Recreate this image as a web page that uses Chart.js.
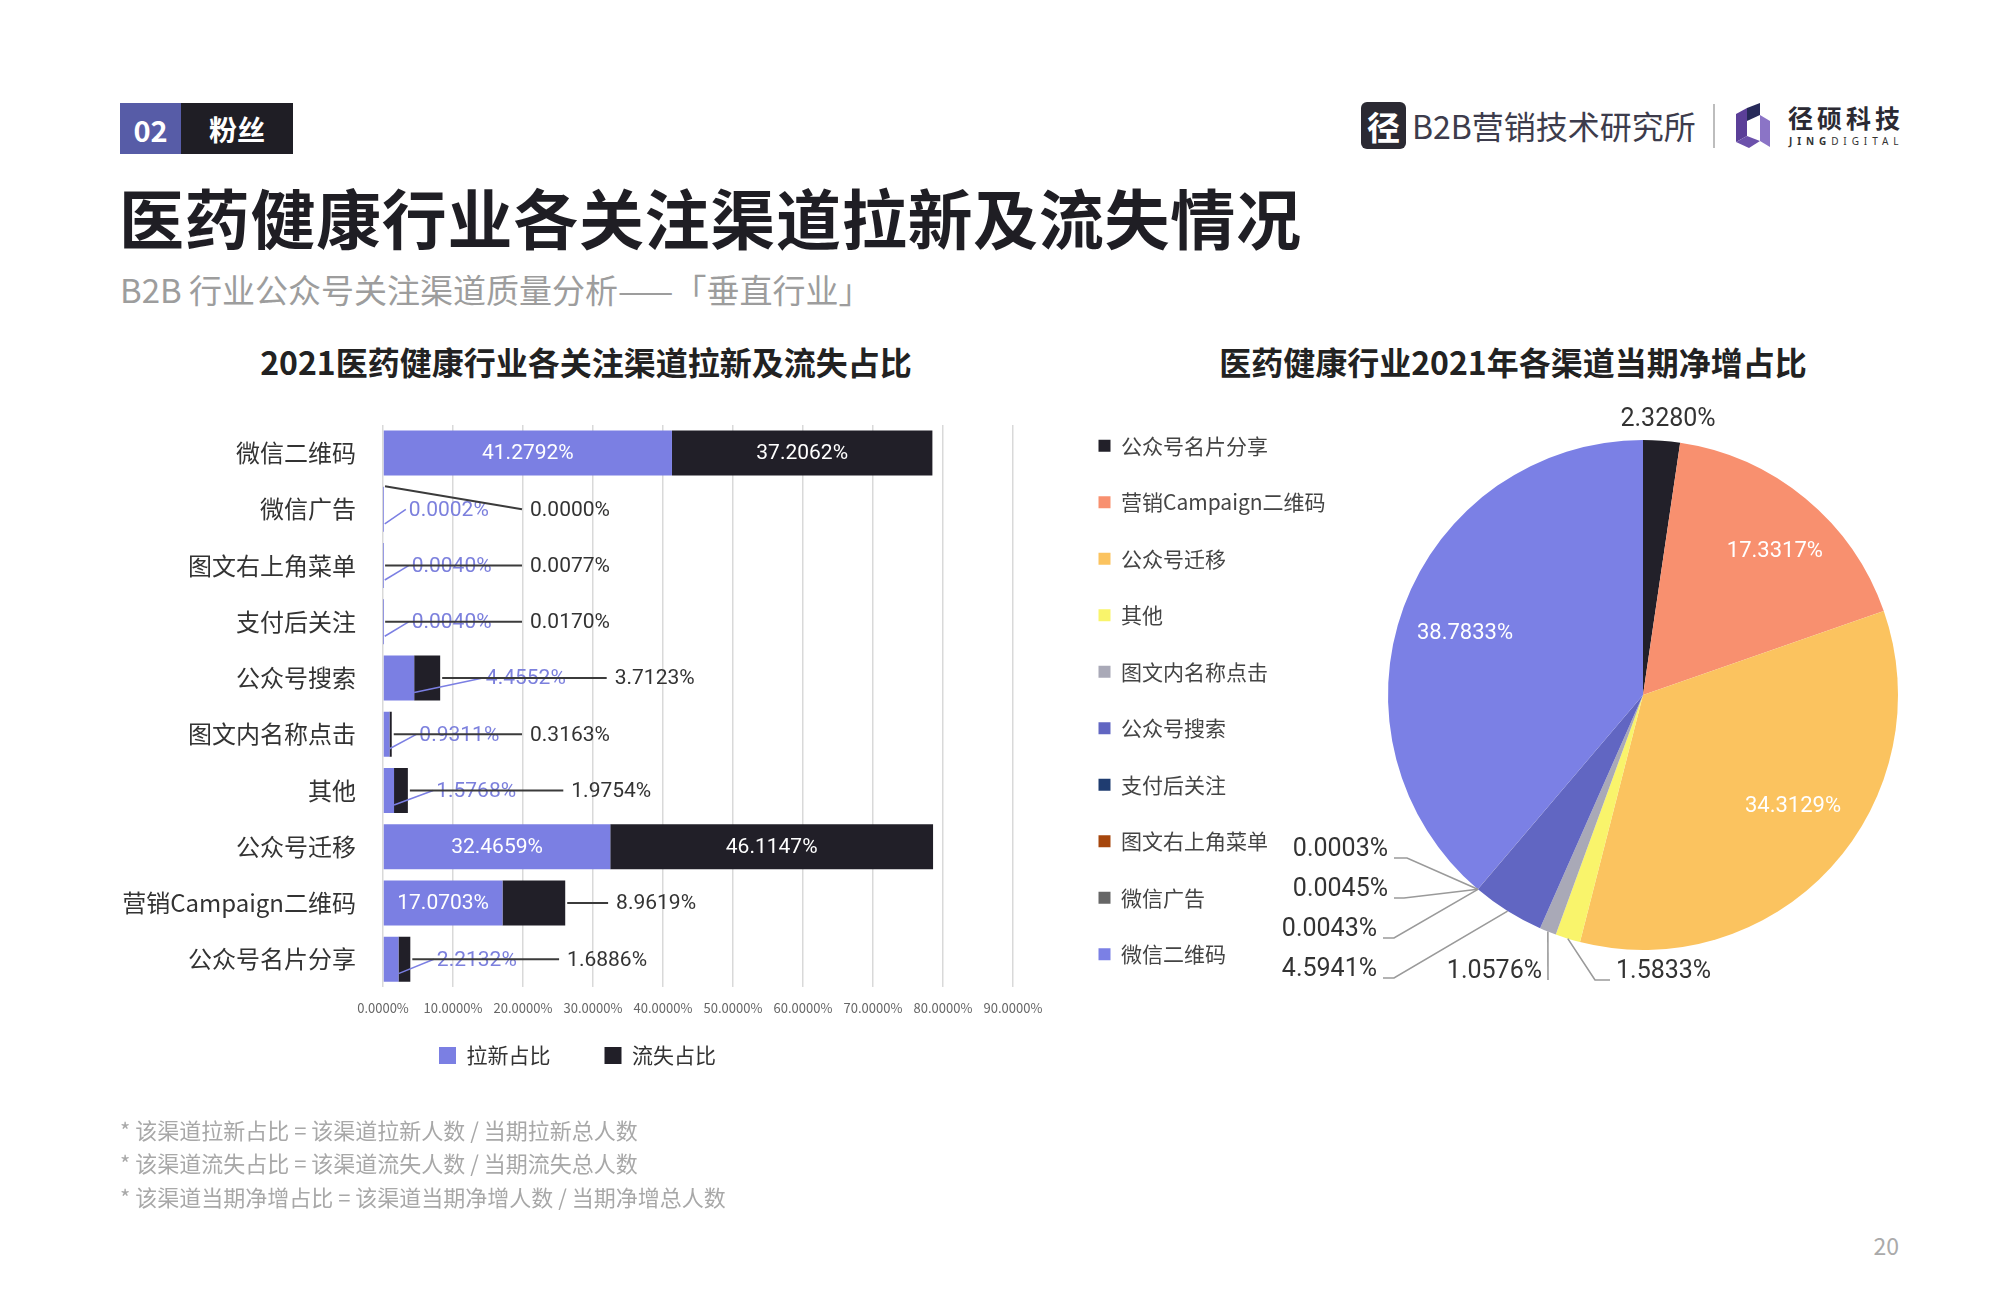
<!DOCTYPE html>
<html><head><meta charset="utf-8">
<script src="https://cdn.jsdelivr.net/npm/chart.js@4.4.1/dist/chart.umd.min.js"></script>
<style>
html,body{margin:0;padding:0;background:#fff;}
body{width:2015px;height:1307px;position:relative;overflow:hidden;font-family:"Noto Sans CJK SC","Noto Sans",sans-serif;}
.abs{position:absolute;white-space:nowrap;}
#tag{left:120px;top:103px;height:51px;display:flex;}
#tag .num{width:61px;background:#575ca7;color:#fff;font-weight:700;font-size:29px;display:flex;align-items:center;justify-content:center;}
#tag .txt{width:112px;background:#1f1e25;color:#fff;font-weight:700;font-size:28px;display:flex;align-items:center;justify-content:center;}
#title{left:119px;top:174px;font-weight:700;font-size:65px;line-height:84px;color:#1f1e24;letter-spacing:0.7px;}
#subtitle{left:120px;top:269px;font-size:33px;line-height:40px;color:#9d9d9d;}
.ctitle{top:341px;width:700px;text-align:center;font-weight:700;font-size:32px;line-height:40px;color:#222;}
#notes{left:120px;top:1112.5px;font-size:22px;line-height:33.5px;color:#a8a8a8;}
#page{left:1851px;top:1230px;width:48px;text-align:right;font-size:23px;line-height:30px;color:#aaa;}
#icon{left:1361px;top:102px;width:45px;height:47px;background:#2b2a33;border-radius:6px;color:#fff;font-weight:700;font-size:33px;display:flex;align-items:center;justify-content:center;}
#b2b{left:1412px;top:104px;font-size:32px;line-height:42px;color:#3d3c4c;}
#divider{left:1713px;top:104px;width:2px;height:44px;background:#bdbdbd;}
#jlogo{left:1733px;top:103px;}
#jing{left:1788px;top:101px;font-weight:700;font-size:25px;line-height:32px;letter-spacing:4px;color:#2b2a33;}
#jingen{left:1789px;top:135px;font-size:10px;line-height:12px;letter-spacing:4.9px;color:#333;font-family:"Noto Sans",sans-serif;}
#barBox{left:100px;top:400px;width:960px;height:714px;}
#pieBox{left:1060px;top:360px;width:883px;height:700px;}
</style></head>
<body>
<div id="tag" class="abs"><div class="num">02</div><div class="txt">粉丝</div></div>
<div id="title" class="abs">医药健康行业各关注渠道拉新及流失情况</div>
<div id="subtitle" class="abs">B2B 行业公众号关注渠道质量分析——「垂直行业」</div>

<div id="icon" class="abs">径</div>
<div id="b2b" class="abs">B2B营销技术研究所</div>
<div id="divider" class="abs"></div>
<svg id="jlogo" class="abs" width="40" height="45" viewBox="0 0 40 45">
  <polygon points="3,11 14,5 14,33 3,39" fill="#5b3f98"/>
  <polygon points="14,5 27,0 27,12 14,18" fill="#272a5a"/>
  <polygon points="27,12 37,18 37,44 27,38" fill="#8b74c6"/>
  <polygon points="3,39 14,33 27,38 16,45" fill="#6c51ab"/>
</svg>
<div id="jing" class="abs">径硕科技</div>
<div id="jingen" class="abs"><b>JING</b>DIGITAL</div>

<div class="abs ctitle" style="left:236px;">2021医药健康行业各关注渠道拉新及流失占比</div>
<div class="abs ctitle" style="left:1163px;">医药健康行业2021年各渠道当期净增占比</div>

<div id="barBox" class="abs"><canvas id="bar"></canvas></div>
<div id="pieBox" class="abs"><canvas id="pie"></canvas></div>

<div id="notes" class="abs">* 该渠道拉新占比 = 该渠道拉新人数 / 当期拉新总人数<br>* 该渠道流失占比 = 该渠道流失人数 / 当期流失总人数<br>* 该渠道当期净增占比 = 该渠道当期净增人数 / 当期净增总人数</div>
<div id="page" class="abs">20</div>

<script>
// ---------------- data ----------------
const barCategories = ['微信二维码','微信广告','图文右上角菜单','支付后关注','公众号搜索','图文内名称点击','其他','公众号迁移','营销Campaign二维码','公众号名片分享'];
const newShare  = [41.2792, 0.0002, 0.0040, 0.0040, 4.4552, 0.9311, 1.5768, 32.4659, 17.0703, 2.2132];
const lossShare = [37.2062, 0.0000, 0.0077, 0.0170, 3.7123, 0.3163, 1.9754, 46.1147, 8.9619, 1.6886];
const barSeriesNames = ['拉新占比','流失占比'];
const xTickValues = [0,10,20,30,40,50,60,70,80,90];

const pieCategories = ['公众号名片分享','营销Campaign二维码','公众号迁移','其他','图文内名称点击','公众号搜索','支付后关注','图文右上角菜单','微信广告','微信二维码'];
const pieValues = [2.3280, 17.3317, 34.3129, 1.5833, 1.0576, 4.5941, 0.0043, 0.0045, 0.0003, 38.7833];

// ---------------- styles / layout ----------------
const BLUE = '#7b7fe3', BLACK = '#211f28', BLUE_TXT = '#7c80dd';
const pieColors = ['#222029','#f8906f','#fbc35f','#f9f46b','#a9a9b7','#6166c2','#1f3c70','#a6460c','#666666','#7b80e5'];
const NUM_FONT = 'Roboto, "Noto Sans", sans-serif';
const CJK = '"Noto Sans CJK SC", "Noto Sans", sans-serif';

// label placement for the bar chart (value-axis units); null = inside the bar
const barLabelLayout = {
  newCenter: [null, 9.4, 9.8, 9.8, 20.4, 10.9, 13.3, null, null, 13.4],
  lossLeft:  [null, 21.0, 21.0, 21.0, 33.1, 21.0, 26.9, null, 33.3, 26.3],
  lossLeaderDy: [0, -23, 0, 0, 0, 0, 0, 0, 0, 0]
};
// label placement for the pie
const pieLabelLayout = {
  inside: [{i: 1, k: 0.763, dDeg: 3.1}, {i: 2, k: 0.734, dDeg: -5.8}, {i: 9, k: 0.739, dDeg: -1.0}],
  top: [{i: 0, k: 1.085, dDeg: 1}],
  outside: [ // pixel offsets of the text anchor from the pie centre
    {i: 3, dx: -27,  dy: 277, align: 'left',  elbow: 15},
    {i: 4, dx: -101, dy: 277, align: 'right', elbow: 0},
    {i: 5, dx: -266, dy: 275, align: 'right', elbow: 11},
    {i: 6, dx: -266, dy: 235, align: 'right', elbow: 11},
    {i: 7, dx: -255, dy: 195, align: 'right', elbow: 10},
    {i: 8, dx: -255, dy: 155, align: 'right', elbow: 13}
  ]
};

const fmt = v => v.toFixed(4) + '%';

// move a legend box after layout (keeps library-drawn legend, fine-tunes position)
const legendShift = {
  id: 'legendShift',
  afterLayout(chart, args, opts) {
    const lg = chart.legend;
    if (!lg) return;
    const dx = opts.dx || 0, dy = opts.dy || 0;
    lg.left += dx; lg.right += dx; lg.top += dy; lg.bottom += dy;
  }
};

// ---------------- bar chart ----------------
const barLabels = {
  id: 'barLabels',
  afterDatasetsDraw(chart) {
    const ctx = chart.ctx, xs = chart.scales.x;
    const m0 = chart.getDatasetMeta(0), m1 = chart.getDatasetMeta(1);
    const L = barLabelLayout;
    ctx.save();
    ctx.font = '21px ' + NUM_FONT;
    ctx.textBaseline = 'middle';
    barCategories.forEach((c, i) => {
      const b0 = m0.data[i], b1 = m1.data[i];
      const yc = b0.y, h = b0.height;
      const nTxt = fmt(newShare[i]), lTxt = fmt(lossShare[i]);
      if (L.newCenter[i] == null) {
        ctx.fillStyle = '#fff'; ctx.textAlign = 'center';
        ctx.fillText(nTxt, (b0.base + b0.x) / 2, yc + 1);
      } else {
        const cx = xs.getPixelForValue(L.newCenter[i]);
        const w = ctx.measureText(nTxt).width;
        ctx.strokeStyle = BLUE; ctx.lineWidth = 1.5;
        ctx.beginPath(); ctx.moveTo(Math.max(b0.x, b0.base + 1), yc + h * 0.32); ctx.lineTo(cx - w / 2 - 3, yc); ctx.stroke();
        ctx.fillStyle = BLUE_TXT; ctx.textAlign = 'center';
        ctx.fillText(nTxt, cx, yc + 1);
      }
      if (L.lossLeft[i] == null) {
        ctx.fillStyle = '#fff'; ctx.textAlign = 'center';
        ctx.fillText(lTxt, (b1.base + b1.x) / 2, yc + 1);
      } else {
        const lx = xs.getPixelForValue(L.lossLeft[i]);
        ctx.strokeStyle = '#3b3b3b'; ctx.lineWidth = 2;
        ctx.beginPath(); ctx.moveTo(Math.max(b1.x, b1.base) + 2, yc + L.lossLeaderDy[i]); ctx.lineTo(lx - 8, yc); ctx.stroke();
        ctx.fillStyle = '#333'; ctx.textAlign = 'left';
        ctx.fillText(lTxt, lx, yc + 1);
      }
    });
    ctx.restore();
  }
};

new Chart(document.getElementById('bar'), {
  type: 'bar',
  data: {
    labels: barCategories,
    datasets: [
      {label: barSeriesNames[0], data: newShare, backgroundColor: BLUE, borderWidth: 0},
      {label: barSeriesNames[1], data: lossShare, backgroundColor: BLACK, borderWidth: 0}
    ]
  },
  options: {
    indexAxis: 'y',
    responsive: true,
    maintainAspectRatio: false,
    animation: false,
    barPercentage: 0.8,
    categoryPercentage: 1.0,
    layout: {padding: {top: 25, right: 47, bottom: 0, left: 0}},
    scales: {
      x: {
        stacked: true, min: 0, max: 90,
        afterBuildTicks: s => { s.ticks = xTickValues.map(v => ({value: v})); },
        grid: {color: '#d9d9d9', lineWidth: 1.5, drawTicks: false},
        border: {display: false},
        ticks: {padding: 13, color: '#666', font: {size: 13, family: CJK}, callback: v => fmt(v), maxRotation: 0, autoSkip: false}
      },
      y: {
        stacked: true,
        afterFit: s => { s.width = 283; },
        grid: {display: true, drawOnChartArea: false, drawTicks: true, tickLength: 27, color: 'rgba(0,0,0,0)'},
        border: {display: false},
        ticks: {padding: 0, color: '#333', font: {size: 24, family: CJK}}
      }
    },
    plugins: {
      legend: {
        position: 'bottom',
        labels: {boxWidth: 17, boxHeight: 17, padding: 54, color: '#333', font: {size: 21, family: CJK}}
      },
      legendShift: {dx: 21, dy: -38},
      tooltip: {enabled: false}
    }
  },
  plugins: [barLabels, legendShift]
});

// ---------------- pie chart ----------------
const legendWidthFix = {
  id: 'legendWidthFix',
  afterInit(chart, args, opts) {
    const lg = chart.legend;
    if (!lg) return;
    const orig = lg.fit.bind(lg);
    lg.fit = function () { orig(); this.width = opts.width; };
  }
};

const pieLabels = {
  id: 'pieLabels',
  afterDatasetsDraw(chart) {
    const ctx = chart.ctx;
    const arcs = chart.getDatasetMeta(0).data;
    const L = pieLabelLayout;
    const pt = (a, k, dDeg) => {
      const mid = (a.startAngle + a.endAngle) / 2 + (dDeg || 0) * Math.PI / 180;
      return {x: a.x + Math.cos(mid) * a.outerRadius * k, y: a.y + Math.sin(mid) * a.outerRadius * k};
    };
    ctx.save();
    ctx.textBaseline = 'middle';
    ctx.font = '22px ' + NUM_FONT;
    ctx.fillStyle = '#fff'; ctx.textAlign = 'center';
    L.inside.forEach(o => { const p = pt(arcs[o.i], o.k, o.dDeg); ctx.fillText(fmt(pieValues[o.i]), p.x, p.y); });
    ctx.font = '25px ' + NUM_FONT;
    ctx.fillStyle = '#333';
    L.top.forEach(o => { const p = pt(arcs[o.i], o.k, o.dDeg); ctx.fillText(fmt(pieValues[o.i]), p.x, p.y); });
    L.outside.forEach(o => {
      const a = arcs[o.i];
      const edge = pt(a, 1.0, 0);
      const tx = a.x + o.dx, ty = a.y + o.dy;
      const ly = ty + 8;
      const dir = o.align === 'right' ? 1 : -1;
      const x0 = tx + dir * 6;
      const x1 = x0 + dir * o.elbow;
      ctx.strokeStyle = '#9a9a9a'; ctx.lineWidth = 1.6;
      ctx.beginPath(); ctx.moveTo(x0, ly); ctx.lineTo(x1, ly); ctx.lineTo(edge.x, edge.y); ctx.stroke();
      ctx.fillStyle = '#333'; ctx.textAlign = o.align;
      ctx.fillText(fmt(pieValues[o.i]), tx, ty);
    });
    ctx.restore();
  }
};

new Chart(document.getElementById('pie'), {
  type: 'pie',
  data: {
    labels: pieCategories,
    datasets: [{data: pieValues, backgroundColor: pieColors, borderWidth: 0}]
  },
  options: {
    responsive: true,
    maintainAspectRatio: false,
    animation: false,
    radius: 255,
    layout: {padding: {left: 3, top: 15, bottom: 45, right: 0}},
    plugins: {
      legend: {
        position: 'left', align: 'center',
        labels: {boxWidth: 12, boxHeight: 12, padding: 35.5, color: '#444', font: {size: 21, family: CJK}}
      },
      legendWidthFix: {width: 280},
      legendShift: {dx: 0, dy: 5},
      tooltip: {enabled: false}
    }
  },
  plugins: [legendWidthFix, legendShift, pieLabels]
});
</script>
</body></html>
